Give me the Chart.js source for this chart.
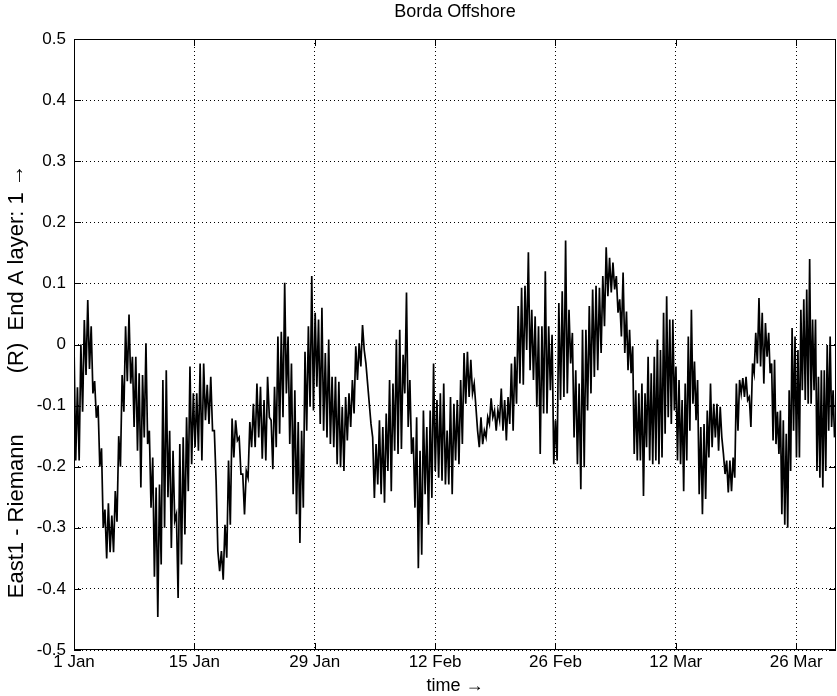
<!DOCTYPE html>
<html>
<head>
<meta charset="utf-8">
<script src="https://cdn.jsdelivr.net/npm/chart.js@4/dist/chart.umd.min.js"></script>
<style>
  html, body { margin: 0; padding: 0; background: #fff; }
  #wrap { width: 837px; height: 696px; }
</style>
</head>
<body>
<div id="wrap"><canvas id="c" width="837" height="696"></canvas></div>
<script>
// Surface elevation difference, alternating successive highs and lows.
// Each block covers the time span between two entries of segmentStartDays
// (days after 1 Jan).
const segmentStartDays = [0, 6.4, 14.67, 22.93, 31.2, 39.46, 47.73, 56, 64.26, 72.53, 80.8, 88.63];

const elev01Jan = [0.0,-0.19, -0.07,-0.19, 0.0,-0.11, 0.04,-0.05, 0.073,-0.04, 0.03,-0.08, -0.06,-0.12, -0.1,-0.2,
  -0.17,-0.3, -0.27,-0.35, -0.26,-0.34, -0.28,-0.34, -0.24,-0.29, -0.15,-0.2, -0.05,-0.11, 0.03,-0.06];
const elev07Jan = [0.049,-0.064, -0.02,-0.135, -0.02,-0.174, -0.047,-0.234, -0.05,-0.152, 0.002,-0.163, -0.141,-0.267,
  -0.185,-0.38, -0.234,-0.446, -0.229,-0.36, -0.058,-0.3, -0.042,-0.25, -0.141,-0.333, -0.174,-0.289, -0.278,-0.415,
  -0.163,-0.36, -0.152,-0.311, -0.119,-0.24, -0.036,-0.196, -0.08,-0.168, -0.08,-0.174];
const elev15Jan = [-0.031,-0.19, -0.031,-0.124, -0.066,-0.13, -0.053,-0.141, -0.141,-0.223, -0.338,-0.371, -0.338,-0.385,
  -0.295,-0.349, -0.19,-0.295, -0.121,-0.185, -0.124,-0.157, -0.152,-0.212, -0.212,-0.278, -0.207,-0.218, -0.127,-0.168,
  -0.097,-0.168, -0.064,-0.152, -0.069,-0.187, -0.091,-0.19, -0.053,-0.119];
const elev23Jan = [-0.124,-0.204, -0.069,-0.168, 0.013,-0.146, 0.021,-0.119, 0.101,-0.08, 0.013,-0.163, -0.031,-0.245,
  -0.075,-0.278, -0.127,-0.325, -0.141,-0.267, -0.012,-0.141, 0.03,-0.102, 0.112,-0.108, 0.052,-0.069, 0.041,-0.13,
  0.06,-0.141, -0.014,-0.152, 0.008,-0.163, -0.053,-0.168, -0.053,-0.196, -0.061,-0.201];
const elev01Feb = [-0.102,-0.207, -0.086,-0.157, -0.08,-0.135, -0.058,-0.113, -0.003,-0.058, 0.002,-0.036, 0.032,-0.009,
  -0.031,-0.064, -0.097,-0.13, -0.152,-0.251, -0.163,-0.229, -0.124,-0.245, -0.135,-0.259, -0.113,-0.207, -0.058,-0.24,
  -0.064,-0.174, 0.008,-0.179, 0.024,-0.171, -0.017,-0.08, 0.085,-0.135, -0.058,-0.179];
const elev09Feb = [-0.152,-0.267, -0.119,-0.366, -0.174,-0.344, -0.108,-0.245, -0.135,-0.295, -0.108,-0.251, -0.031,-0.207,
  -0.091,-0.218, -0.08,-0.223, -0.064,-0.229, -0.141,-0.229, -0.086,-0.245, -0.097,-0.19, -0.091,-0.196, -0.058,-0.163,
  -0.014,-0.097, -0.012,-0.086, -0.025,-0.08, -0.064,-0.102, -0.141,-0.168, -0.119,-0.163];
const elev17Feb = [-0.141,-0.152, -0.119,-0.13, -0.088,-0.119, -0.108,-0.141, -0.108,-0.124, -0.072,-0.141, -0.091,-0.157,
  -0.086,-0.13, -0.031,-0.141, -0.02,-0.097, 0.063,-0.064, 0.093,-0.066, 0.096,-0.009, 0.151,-0.042, 0.057,-0.058,
  0.046,-0.102, 0.03,-0.179, 0.03,-0.113, 0.12,-0.113, 0.03,-0.075, 0.016,-0.196];
const elev26Feb = [-0.124,-0.19, 0.068,-0.091, 0.087,-0.086, 0.17,-0.08, 0.057,-0.031, 0.019,-0.152, -0.042,-0.196,
  -0.064,-0.237, 0.024,-0.201, 0.024,-0.108, 0.063,-0.08, 0.09,-0.053, 0.096,-0.042, 0.093,-0.014, 0.112,0.03,
  0.159,0.079, 0.142,0.085, 0.134,0.09, 0.112,0.052, 0.074,0.013, 0.118,-0.014];
const elev06Mar = [0.054,-0.042, 0.024,-0.047, -0.003,-0.179, -0.075,-0.19, -0.08,-0.19, -0.064,-0.248, -0.08,-0.168,
  -0.02,-0.19, -0.047,-0.196, -0.02,-0.19, 0.008,-0.196, -0.009,-0.185, 0.052,-0.146, 0.079,-0.119, 0.041,-0.13,
  0.041,-0.108, -0.036,-0.19, -0.058,-0.196, -0.091,-0.24, -0.064,-0.19, 0.013,-0.141, 0.057,-0.097, -0.028,-0.124];
const elev14Mar = [-0.058,-0.245, -0.135,-0.278, -0.13,-0.253, -0.108,-0.185, -0.064,-0.168, -0.097,-0.152, -0.097,-0.174,
  -0.102,-0.152, -0.179,-0.212, -0.19,-0.242, -0.19,-0.24, -0.185,-0.218, -0.064,-0.141, -0.058,-0.08, -0.055,-0.086,
  -0.053,-0.091, -0.086,-0.135, -0.031,-0.047, 0.019,-0.031, 0.076,-0.036, 0.052,-0.064, 0.035,-0.02];
const elev22Mar = [0.019,-0.047, -0.031,-0.157, -0.025,-0.163, -0.11,-0.179, -0.108,-0.278, -0.124,-0.295, -0.146,-0.3,
  -0.075,-0.207, 0.027,-0.141, 0.013,-0.185, -0.009,-0.185, 0.057,-0.075, 0.074,-0.091, 0.09,-0.097, 0.14,-0.097,
  0.041,-0.075, 0.041,-0.207, -0.053,-0.218, -0.042,-0.234, -0.042,-0.207, -0.001,-0.141, 0.013,-0.135, -0.075,-0.152];

const xTickDays = [0, 14, 28, 42, 56, 70, 84];
const xTickLabels = ['1 Jan', '15 Jan', '29 Jan', '12 Feb', '26 Feb', '12 Mar', '26 Mar'];
const yTickValues = [-0.5, -0.4, -0.3, -0.2, -0.1, 0, 0.1, 0.2, 0.3, 0.4, 0.5];
const yTickLabels = ['-0.5', '-0.4', '-0.3', '-0.2', '-0.1', '0', '0.1', '0.2', '0.3', '0.4', '0.5'];

const segments = [elev01Jan, elev07Jan, elev15Jan, elev23Jan, elev01Feb, elev09Feb,
                  elev17Feb, elev26Feb, elev06Mar, elev14Mar, elev22Mar];

// Place each block's samples evenly across its time span.
const points = [];
segments.forEach((vals, s) => {
  const t0 = segmentStartDays[s];
  const t1 = segmentStartDays[s + 1];
  const dt = (t1 - t0) / vals.length;
  vals.forEach((v, k) => points.push({ x: t0 + k * dt, y: v }));
});

const FONT = "'Liberation Sans', Arial, Helvetica, sans-serif";

// Box round the axes with short inward tick marks on all four sides.
const axesBox = {
  id: 'axesBox',
  afterDatasetsDraw(chart) {
    const { ctx, chartArea: a, scales: { x, y } } = chart;
    const len = 7;
    ctx.save();
    ctx.strokeStyle = '#000';
    ctx.lineWidth = 1;
    ctx.beginPath();
    x.ticks.forEach(t => {
      const px = Math.round(x.getPixelForValue(t.value)) + 0.5;
      ctx.moveTo(px, a.bottom); ctx.lineTo(px, a.bottom - len);
      ctx.moveTo(px, a.top); ctx.lineTo(px, a.top + len);
    });
    y.ticks.forEach(t => {
      const py = Math.round(y.getPixelForValue(t.value)) + 0.5;
      ctx.moveTo(a.left, py); ctx.lineTo(a.left + len, py);
      ctx.moveTo(a.right, py); ctx.lineTo(a.right - len, py);
    });
    ctx.stroke();
    ctx.strokeRect(Math.round(a.left) + 0.5, Math.round(a.top) + 0.5,
                   Math.round(a.width) - 1, Math.round(a.height) - 1);
    ctx.restore();
  }
};

new Chart(document.getElementById('c'), {
  type: 'line',
  data: {
    datasets: [{
      data: points,
      borderColor: '#000',
      borderWidth: 1.7,
      pointRadius: 0,
      tension: 0,
      fill: false
    }]
  },
  options: {
    responsive: false,
    animation: false,
    devicePixelRatio: 1,
    layout: { padding: { left: 0, right: 1, top: 0, bottom: 0 } },
    plugins: {
      legend: { display: false },
      tooltip: { enabled: false },
      title: {
        display: true,
        fullSize: false,
        text: 'Borda Offshore',
        color: '#000',
        font: { family: FONT, size: 18, weight: 'normal', lineHeight: 1.2 },
        padding: { top: 1, bottom: 16.4 }
      }
    },
    scales: {
      x: {
        type: 'linear',
        min: 0,
        max: 88.63,
        afterFit(s) { s.height = 46; },
        afterBuildTicks(s) { s.ticks = xTickDays.map(v => ({ value: v })); },
        ticks: {
          color: '#000',
          font: { family: FONT, size: 17 },
          padding: 2,
          maxRotation: 0,
          autoSkip: false,
          callback: (v) => xTickLabels[xTickDays.indexOf(v)]
        },
        grid: { color: '#000', lineWidth: 1, drawTicks: false },
        border: { display: false, dash: [1, 3] },
        title: {
          display: true,
          text: 'time \u2192',
          color: '#000',
          font: { family: FONT, size: 18, lineHeight: 1 },
          padding: { top: 0, bottom: 1 }
        }
      },
      y: {
        min: -0.5,
        max: 0.5,
        afterFit(s) { s.width = 74; },
        afterBuildTicks(s) { s.ticks = yTickValues.map(v => ({ value: v })); },
        ticks: {
          color: '#000',
          font: { family: FONT, size: 17 },
          padding: 8,
          autoSkip: false,
          callback: (v) => yTickLabels[yTickValues.findIndex(t => Math.abs(t - v) < 1e-9)]
        },
        grid: { color: '#000', lineWidth: 1, drawTicks: false },
        border: { display: false, dash: [1, 3] },
        title: {
          display: true,
          text: 'East1 - Riemann          (R)  End A layer: 1 \u2192            ',
          color: '#000',
          font: { family: FONT, size: 22, lineHeight: 1.2 },
          padding: { top: 4, bottom: 0 }
        }
      }
    }
  },
  plugins: [axesBox]
});
</script>
</body>
</html>
